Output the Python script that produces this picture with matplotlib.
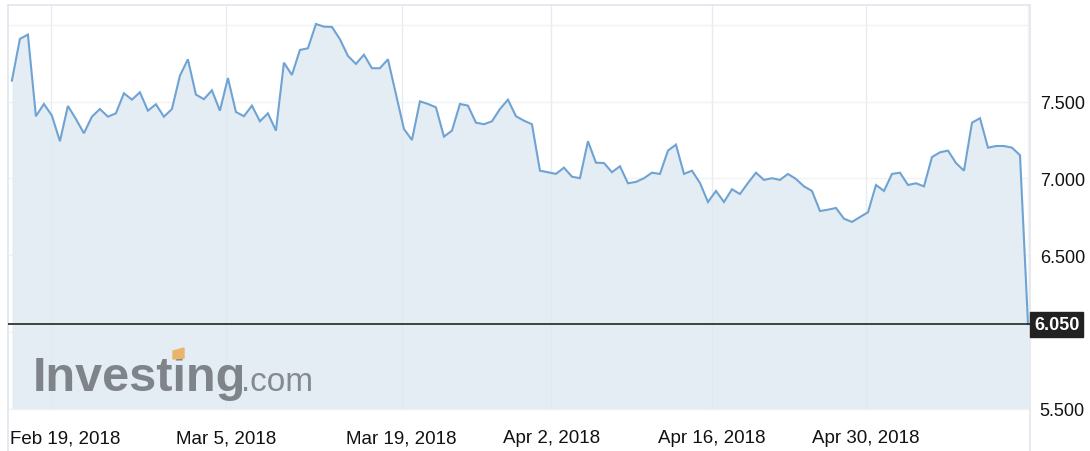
import matplotlib
matplotlib.use("Agg")
import matplotlib.pyplot as plt
import matplotlib.transforms as mtransforms
from matplotlib.patches import Polygon

plt.rcParams["font.family"] = ["Liberation Sans", "DejaVu Sans"]

# closing values, one per sample (index based x axis like the investing.com widget)
prices = [
    7.637, 7.909, 7.937, 7.405, 7.485, 7.409, 7.242, 7.472, 7.387, 7.294,
    7.402, 7.452, 7.402, 7.424, 7.555, 7.513, 7.561, 7.441, 7.483, 7.402,
    7.452, 7.669, 7.776, 7.546, 7.516, 7.574, 7.441, 7.654, 7.433, 7.405,
    7.474, 7.372, 7.424, 7.311, 7.754, 7.674, 7.837, 7.848, 8.006, 7.989,
    7.987, 7.907, 7.798, 7.746, 7.806, 7.718, 7.718, 7.776, 7.550, 7.322,
    7.250, 7.502, 7.485, 7.463, 7.272, 7.311, 7.485, 7.474, 7.363, 7.353,
    7.372, 7.452, 7.513, 7.405, 7.376, 7.353, 7.050, 7.040, 7.029, 7.070,
    7.011, 7.001, 7.242, 7.102, 7.100, 7.040, 7.079, 6.968, 6.977, 7.001,
    7.037, 7.029, 7.181, 7.220, 7.029, 7.050, 6.970, 6.846, 6.918, 6.846,
    6.929, 6.898, 6.970, 7.037, 6.990, 7.001, 6.990, 7.029, 6.996, 6.948,
    6.918, 6.787, 6.796, 6.807, 6.737, 6.716, 6.748, 6.779, 6.957, 6.918,
    7.029, 7.037, 6.957, 6.968, 6.948, 7.139, 7.170, 7.181, 7.100, 7.050,
    7.363, 7.392, 7.200, 7.211, 7.211, 7.200, 7.151, 6.050,
]
last_price = 6.050

date_labels = ["Feb 19, 2018", "Mar 5, 2018", "Mar 19, 2018",
               "Apr 2, 2018", "Apr 16, 2018", "Apr 30, 2018"]
date_positions = [4.9, 26.8, 48.7, 67.4, 87.5, 106.7]

y_ticks = [5.5, 6.5, 7.0, 7.5]
grid_levels = [5.5, 6.0, 6.5, 7.0, 7.5, 8.0]

LINE = "#6fa3d3"
FILL = "#e4edf3"
FRAME = "#e0e6ee"
GRID = "#f0f2f5"

fig = plt.figure(figsize=(10.9, 4.52), dpi=100)
ax = fig.add_axes([7.5 / 1090, 0, (1030 - 7.5) / 1090, (452 - 6) / 452])

x = list(range(len(prices)))
floor = 5.5
ax.set_xlim(-0.55, 127.25)
ax.set_ylim(5.223, 8.130)

# grid
ax.hlines(grid_levels, -0.55, x[-1], color=GRID, lw=1, zorder=0)
ax.vlines(date_positions, floor, 8.13, color=GRID, lw=1, zorder=0)
ax.vlines([x[-1]], floor, 8.13, color=GRID, lw=1, zorder=0)

ax.fill_between(x, prices, floor, color=FILL, lw=0, zorder=1)
ax.vlines(date_positions, floor, 8.13, color="#dae3eb", lw=0.8, zorder=1.5, alpha=0.35)
ax.plot(x, prices, color=LINE, lw=1.5, zorder=3, solid_joinstyle="miter")

# current price line + tag
ax.axhline(last_price, color="#333333", lw=1.3, zorder=4)
trans = mtransforms.blended_transform_factory(ax.transAxes, ax.transData)
ax.text(1.0 + 4 / 1022.5, last_price, f"{last_price:.3f}", transform=trans,
        ha="left", va="center", color="white", fontsize=13, fontweight="bold",
        bbox=dict(boxstyle="square,pad=0.22", fc="#222222", ec="#222222"),
        zorder=5, clip_on=False)

# y axis labels on the right
ax.yaxis.tick_right()
ax.set_yticks(y_ticks)
ax.set_yticklabels([f"{v:.3f}" for v in y_ticks])
ax.tick_params(axis="y", length=0, pad=7, labelsize=13, labelcolor="#111111")
ax.set_xticks([])

# date labels inside the frame
xtrans = mtransforms.blended_transform_factory(ax.transData, ax.transAxes)
for i, (pos, lab) in enumerate(zip(date_positions, date_labels)):
    if i == 0:
        ax.text(0.0 + 2.5 / 1022.5, 13 / 446, lab, transform=ax.transAxes,
                ha="left", va="center", fontsize=13.5, color="#111111")
    else:
        ax.text(pos, 13 / 446, lab, transform=xtrans, ha="center",
                va="center", fontsize=13.5, color="#111111")

for side in ["left", "top", "right"]:
    ax.spines[side].set_color(FRAME)
    ax.spines[side].set_linewidth(1.2)
ax.spines["bottom"].set_visible(False)

# watermark logo
fig.text(33 / 1090, 1 - 391 / 452, "Investing", fontsize=35, fontweight="bold",
         color="#7f838a", va="baseline", ha="left")
fig.text(241 / 1090, 1 - 391 / 452, ".com", fontsize=24, color="#868a90",
         va="baseline", ha="left")
accent = Polygon([[173, 452 - 352], [184, 452 - 349], [184, 452 - 359], [173, 452 - 360]],
                 closed=True, transform=None, color="#e8b56a", zorder=6)
fig.patches.append(accent)

fig.savefig("out.png", dpi=100)
